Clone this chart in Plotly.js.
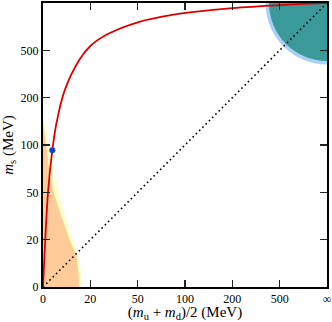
<!DOCTYPE html>
<html>
<head>
<meta charset="utf-8">
<script src="https://cdn.plot.ly/plotly-3.0.1.min.js"></script>
<style>
  body { margin: 0; background: #fff; }
  #massPlot { width: 332px; height: 322px; }
</style>
</head>
<body>
<div id="massPlot"></div>
<script>
// axis ticks (MeV), the axis is m/(m+100) so infinity sits at the edge
const tickMeV = [0, 20, 50, 100, 200, 500, Infinity];
const tickLabels = ["0", "20", "50", "100", "200", "500", "\u221e"];

// red line, fixed ms/mud ratio through the physical point
const ratioUD = [0, 0.8, 1.8, 3.4, 5, 8.3, 14.7, 20, 29, 52, 80, 107, 200, 500, 1500, Infinity];
const ratioS = [0, 20, 50, 93, 137, 226, 400, 560, 800, 1430, 2200, 2930, 5500, 13700, 41000, Infinity];

// physical point
const physUD = [3.4];
const physS = [93];

// light-quark region (orange) and its error band (yellow)
const orangeUD = [0, 0.6, 1.3, 2.5, 3.9, 6.5, 10.3, 13.3, 14.4, 14.5, 0];
const orangeS = [140, 115, 93, 65, 50, 35, 20, 12.7, 4.4, 0, 0];
const yellowUD = [0, 0.8, 2.3, 4.4, 6.6, 9, 11.8, 14.6, 15.6, 15.8, 0];
const yellowS = [165, 130, 93, 62, 44, 30, 20, 10, 4, 0, 0];

// diagonal ms = mud
const diagUD = [0, Infinity];
const diagS = [0, Infinity];

// heavy-quark region: where the quarter circle meets the edges (MeV)
const heavyEdge = 390;
const heavyBandEdge = 362;

// the axis scale
function toAxis(m) {
  if (!isFinite(m)) return 1;
  return m / (m + 100);
}

const serif = "Liberation Serif, Times New Roman, serif";

const traces = [
  {
    x: yellowUD.map(toAxis), y: yellowS.map(toAxis),
    mode: "lines", fill: "toself", fillcolor: "#ffffc8",
    line: {width: 0}, hoverinfo: "skip"
  },
  {
    x: orangeUD.map(toAxis), y: orangeS.map(toAxis),
    mode: "lines", fill: "toself", fillcolor: "#ffcc99",
    line: {width: 0}, hoverinfo: "skip"
  },
  {
    x: diagUD.map(toAxis), y: diagS.map(toAxis),
    mode: "lines",
    line: {color: "#000", width: 1.6, dash: "1.6px,3px"}
  },
  {
    x: ratioUD.map(toAxis), y: ratioS.map(toAxis),
    mode: "lines",
    line: {color: "#dd0000", width: 1.8, shape: "spline", smoothing: 0.8}
  },
  {
    x: physUD.map(toAxis), y: physS.map(toAxis),
    mode: "markers",
    marker: {color: "#1a3fc0", size: 6}
  }
];

const c1 = toAxis(heavyBandEdge);
const c2 = toAxis(heavyEdge);

const axisBase = {
  range: [0, 1],
  tickvals: tickMeV.map(toAxis),
  ticktext: tickLabels,
  ticks: "inside",
  ticklen: 7,
  tickwidth: 1.4,
  tickcolor: "#222",
  showline: true,
  linewidth: 2,
  linecolor: "#000",
  mirror: "ticks",
  showgrid: false,
  zeroline: false,
  fixedrange: true,
  tickfont: {family: serif, size: 12, color: "#000"}
};

const layout = {
  width: 332,
  height: 322,
  margin: {l: 43, r: 5, t: 3, b: 35},
  showlegend: false,
  paper_bgcolor: "#fff",
  plot_bgcolor: "#fff",
  xaxis: Object.assign({}, axisBase, {
    title: {text: "(<i>m</i><sub>u</sub> + <i>m</i><sub>d</sub>)/2 (MeV)",
            font: {family: serif, size: 15, color: "#000"}, standoff: 2}
  }),
  yaxis: Object.assign({}, axisBase, {
    title: {text: "<i>m</i><sub>s</sub> (MeV)",
            font: {family: serif, size: 15, color: "#000"}, standoff: 4}
  }),
  shapes: [
    {type: "circle", xref: "x", yref: "y", layer: "below",
     x0: c1, x1: 2 - c1, y0: c1, y1: 2 - c1,
     fillcolor: "#a8d0f8", line: {width: 0}},
    {type: "circle", xref: "x", yref: "y", layer: "below",
     x0: c2, x1: 2 - c2, y0: c2, y1: 2 - c2,
     fillcolor: "#3a9a9a", line: {width: 0}}
  ]
};

Plotly.newPlot("massPlot", traces, layout, {staticPlot: true, displayModeBar: false});
</script>
</body>
</html>
